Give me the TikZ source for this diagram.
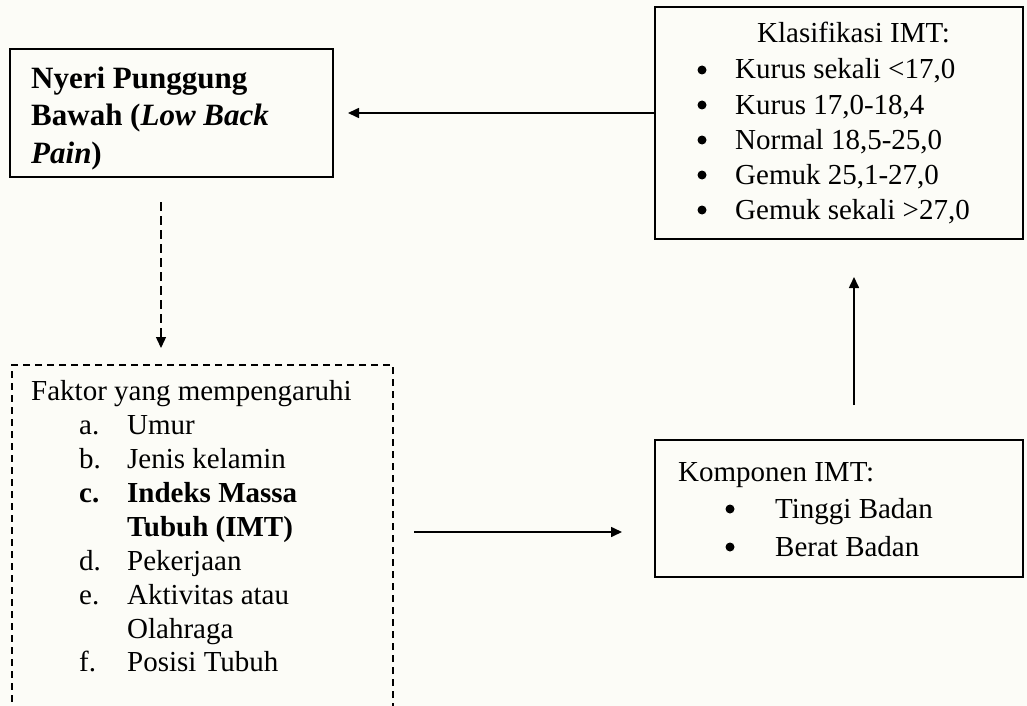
\documentclass[tikz,border=0pt]{standalone}
\usepackage{fontspec}
\setmainfont{Liberation Serif}
\usetikzlibrary{arrows.meta}
\definecolor{bgcol}{RGB}{252,252,247}
\begin{document}
\begin{tikzpicture}[x=1pt,y=-1pt,
  box/.style={draw, line width=1.6pt, inner sep=0pt, outer sep=0pt, anchor=north west},
  dbox/.style={draw, line width=1.3pt, dash pattern=on 7pt off 5pt, inner sep=0pt, outer sep=0pt, anchor=north west},
  txt/.style={inner sep=0pt, anchor=base west, font=\fontsize{29}{34}\selectfont},
  btxt/.style={inner sep=0pt, anchor=base west, font=\fontsize{29}{34}\selectfont\bfseries},
  bul/.style={circle, fill=black, inner sep=0pt, minimum size=9pt},
  ttl/.style={inner sep=0pt, anchor=base west, font=\fontsize{31}{37}\selectfont\bfseries},
  arr/.style={line width=1.6pt, -{Triangle[length=11pt,width=10pt]}},
  darr/.style={line width=1.4pt, dash pattern=on 9pt off 5pt, -{Triangle[length=11pt,width=10pt]}},
]
\fill[bgcol] (0,0) rectangle (1027,706);
\useasboundingbox (0,0) rectangle (1027,706);

% boxes
\node[box, minimum width=323pt, minimum height=128pt] (nyeri) at (10,49) {};
\node[box, minimum width=368pt, minimum height=232pt] (klas) at (655,7) {};
\node[dbox, minimum width=381pt, minimum height=360pt] (faktor) at (12,365) {};
\node[box, minimum width=368pt, minimum height=137pt] (komp) at (655,440) {};

% Nyeri text
\node[ttl] (n1) at (31,89) {Nyeri Punggung};
\node[ttl] (n2) at (31,125) {Bawah (\textit{Low Back}};
\node[ttl] (n3) at (31,163) {\textit{Pain})};

% Klasifikasi text
\node[txt] (k0) at (757,43) {Klasifikasi IMT:};
\node[bul] (kb1) at (702,70) {};
\node[bul] (kb2) at (702,105) {};
\node[bul] (kb3) at (702,140) {};
\node[bul] (kb4) at (702,175) {};
\node[bul] (kb5) at (702,210) {};
\node[txt] (k1) at (735,79) {Kurus sekali <17,0};
\node[txt] (k2) at (735,114) {Kurus 17,0-18,4};
\node[txt] (k3) at (735,149) {Normal 18,5-25,0};
\node[txt] (k4) at (735,184) {Gemuk 25,1-27,0};
\node[txt] (k5) at (735,219) {Gemuk sekali >27,0};

% Faktor text
\node[txt] (f0) at (31,400) {Faktor yang mempengaruhi};
\node[txt] (fa) at (79,434) {a.};
\node[txt] (fat) at (127,434) {Umur};
\node[txt] (fb) at (79,468) {b.};
\node[txt] (fbt) at (127,468) {Jenis kelamin};
\node[btxt] (fc) at (79,502) {c.};
\node[btxt] (fct1) at (127,502) {Indeks Massa};
\node[btxt] (fct2) at (127,536) {Tubuh (IMT)};
\node[txt] (fd) at (79,570) {d.};
\node[txt] (fdt) at (127,570) {Pekerjaan};
\node[txt] (fe) at (79,604) {e.};
\node[txt] (fet1) at (127,604) {Aktivitas atau};
\node[txt] (fet2) at (127,638) {Olahraga};
\node[txt] (ff) at (79,671) {f.};
\node[txt] (fft) at (127,671) {Posisi Tubuh};

% Komponen text
\node[txt] (c0) at (678,481) {Komponen IMT:};
\node[bul] (cb1) at (730,509) {};
\node[bul] (cb2) at (730,547) {};
\node[txt] (c1) at (775,518) {Tinggi Badan};
\node[txt] (c2) at (775,556) {Berat Badan};

% connectors
\draw[arr] (klas.west |- nyeri.east) -- ([xshift=15pt]nyeri.east);
\draw[darr] ([shift={(151,25)}]nyeri.south west) -- ([shift={(149,-17)}]faktor.north west);
\draw[arr] ([shift={(21,167)}]faktor.north east) -- ([shift={(-33,92)}]komp.north west);
\draw[arr] ([shift={(199,-35)}]komp.north west) -- ([shift={(199,38)}]klas.south west);
\end{tikzpicture}
\end{document}
